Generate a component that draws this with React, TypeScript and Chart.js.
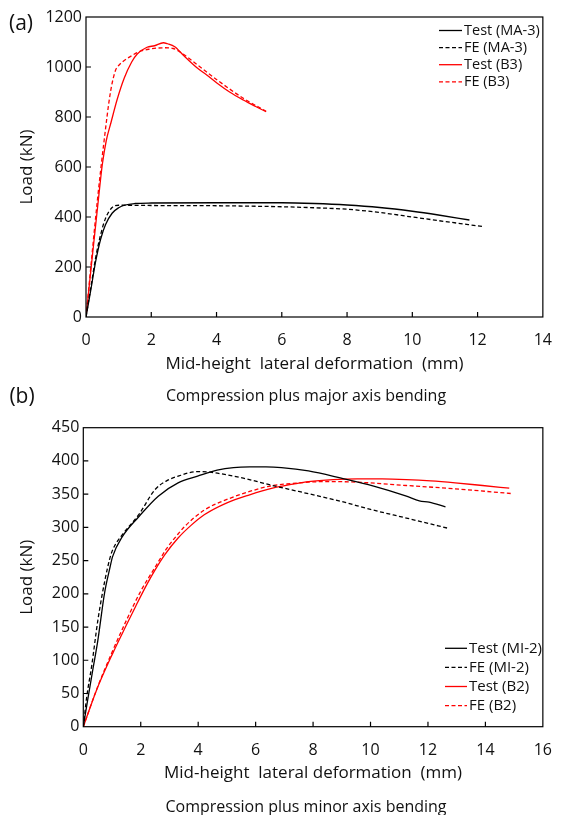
import React, { useEffect, useRef } from "react";
import { Chart, registerables } from "chart.js";

Chart.register(...registerables);

const FONT = "'Open Sans', sans-serif";

// ---------- (a) Compression plus major axis bending ----------
const aXTicksMax = 14;
const aYTicksMax = 1200;

const testMA3X = [0, 0.15, 0.3, 0.45, 0.6, 0.8, 1.0, 1.2, 1.5, 2, 4, 6, 7, 8, 9, 10, 10.8, 11.75];
const testMA3Y = [0, 110, 225, 312, 370, 415, 437, 448, 454, 456, 457, 457, 454, 448, 438, 423, 408, 388];

const feMA3X = [0, 0.15, 0.3, 0.45, 0.6, 0.8, 1.0, 1.3, 2, 4, 6, 7, 8, 9, 10, 11, 12.15];
const feMA3Y = [0, 120, 240, 330, 395, 438, 447, 447, 446, 445, 441, 437, 431, 418, 400, 382, 362];

const testB3X = [0, 0.2, 0.38, 0.5, 0.62, 0.77, 0.95, 1.17, 1.4, 1.57, 1.87, 2.1, 2.37, 2.5, 2.72, 3.0, 3.42, 3.7, 4.02, 4.4, 4.82, 5.2, 5.52];
const testB3Y = [0, 250, 470, 610, 705, 780, 868, 955, 1020, 1052, 1079, 1085, 1097, 1093, 1081, 1045, 995, 968, 935, 900, 868, 842, 821];

const feB3X = [0, 0.35, 0.55, 0.75, 0.9, 0.97, 1.12, 1.4, 1.62, 1.92, 2.42, 2.67, 2.87, 3.42, 4.02, 4.82, 5.52];
const feB3Y = [0, 468, 700, 900, 985, 1001, 1021, 1045, 1061, 1071, 1077, 1074, 1061, 1008, 948, 875, 823];

// ---------- (b) Compression plus minor axis bending ----------
const bXTicksMax = 16;
const bYTicksMax = 450;

const testMI2X = [0, 0.17, 0.34, 0.5, 0.74, 0.91, 1.02, 1.36, 1.93, 2.61, 3.3, 3.98, 4.66, 5.23, 5.8, 6.36, 6.9, 7.84, 8.98, 10.11, 11.25, 11.7, 12.04, 12.61];
const testMI2Y = [0, 45, 88, 128, 201, 236, 256, 286, 316, 347, 367, 377, 386, 390, 391, 391, 390, 385, 374, 362, 347, 340, 338, 331];

const feMI2X = [0, 0.12, 0.29, 0.51, 0.75, 0.91, 1.02, 1.36, 1.93, 2.5, 2.9, 3.3, 3.98, 4.43, 5.0, 5.57, 6.59, 7.5, 8.98, 10, 11.25, 12.67];
const feMI2Y = [0, 45, 91, 161, 220, 251, 266, 289, 319, 357, 370, 377, 384, 383, 379, 374, 363, 354, 339, 327, 314, 299];

const testB2X = [0, 0.46, 1.02, 1.5, 1.82, 2.2, 2.5, 2.84, 3.3, 3.75, 4.21, 5.0, 5.79, 6.59, 7.3, 7.84, 8.7, 9.54, 10.4, 11.25, 12.1, 12.95, 13.9, 14.83];
const testB2Y = [0, 55, 110, 153, 181, 213, 236, 259, 284, 303, 319, 337, 349, 359, 365, 369, 372, 373, 373, 372, 370, 367, 363, 359];

const feB2X = [0, 0.5, 1.0, 1.5, 2.0, 2.5, 2.9, 3.3, 3.52, 4.21, 5.0, 5.79, 6.59, 7.3, 7.84, 8.5, 9.54, 11.25, 12.95, 14.88];
const feB2Y = [0, 60, 112, 160, 204, 240, 268, 290, 301, 326, 342, 354, 363, 366, 368, 369, 368, 363, 358, 351];

const toPts = (xs: number[], ys: number[]) => xs.map((x, i) => ({ x, y: ys[i] }));

const framePlugin = {
  id: "frame",
  afterDraw(chart: any) {
    const { ctx, chartArea } = chart;
    const xs = chart.scales.x;
    const ys = chart.scales.y;
    ctx.save();
    ctx.strokeStyle = "#000";
    ctx.lineWidth = 1.2;
    ctx.setLineDash([]);
    ctx.strokeRect(chartArea.left, chartArea.top, chartArea.right - chartArea.left, chartArea.bottom - chartArea.top);
    ctx.beginPath();
    xs.ticks.forEach((t: any) => {
      const px = xs.getPixelForValue(t.value);
      if (px <= chartArea.left + 1 || px >= chartArea.right - 1) return;
      ctx.moveTo(px, chartArea.bottom);
      ctx.lineTo(px, chartArea.bottom - 5);
    });
    ys.ticks.forEach((t: any) => {
      const py = ys.getPixelForValue(t.value);
      if (py <= chartArea.top + 1 || py >= chartArea.bottom - 1) return;
      ctx.moveTo(chartArea.left, py);
      ctx.lineTo(chartArea.left + 5, py);
    });
    ctx.stroke();
    ctx.restore();
  },
};

const legendPlugin = {
  id: "insideLegend",
  afterDraw(chart: any, _args: any, opts: any) {
    const { ctx } = chart;
    ctx.save();
    ctx.font = `${opts.fontSize}px ${FONT}`;
    ctx.textBaseline = "middle";
    ctx.textAlign = "left";
    chart.data.datasets.forEach((ds: any, i: number) => {
      const cy = opts.y + i * opts.rowHeight;
      ctx.beginPath();
      ctx.setLineDash(ds.borderDash || []);
      ctx.strokeStyle = ds.borderColor;
      ctx.lineWidth = ds.borderWidth;
      ctx.moveTo(opts.x, cy);
      ctx.lineTo(opts.x + opts.lineLength, cy);
      ctx.stroke();
      ctx.setLineDash([]);
      ctx.fillStyle = "#111";
      ctx.fillText(ds.label, opts.x + opts.lineLength + opts.gap, cy);
    });
    ctx.restore();
  },
};

type Series = { label: string; xs: number[]; ys: number[]; color: string; dashed: boolean };

function buildConfig(
  series: Series[],
  xMax: number,
  yMax: number,
  yStep: number,
  layout: { top: number; right: number; yWidth: number; xHeight: number; titlePad: number; tickPad: number },
  legend: any
) {
  return {
    type: "line" as const,
    data: {
      datasets: series.map((s) => ({
        label: s.label,
        data: toPts(s.xs, s.ys),
        borderColor: s.color,
        backgroundColor: s.color,
        borderWidth: 1.3,
        borderDash: s.dashed ? [4, 2.5] : [],
        pointRadius: 0,
        fill: false,
        cubicInterpolationMode: "monotone" as const,
      })),
    },
    options: {
      animation: false as const,
      responsive: false,
      maintainAspectRatio: false,
      layout: { padding: { top: layout.top, right: layout.right, left: 0, bottom: 0 } },
      plugins: {
        legend: { display: false },
        tooltip: { enabled: false },
        insideLegend: legend,
      },
      scales: {
        x: {
          type: "linear" as const,
          min: 0,
          max: xMax,
          ticks: {
            stepSize: 2,
            color: "#111",
            font: { family: FONT, size: 16 },
            padding: layout.tickPad,
            maxRotation: 0,
            callback: (v: any) => String(v),
          },
          grid: { display: false, drawTicks: false },
          border: { display: false },
          title: {
            display: true,
            text: "Mid-height  lateral deformation  (mm)",
            color: "#111",
            font: { family: FONT, size: 17 },
            padding: { top: 0, bottom: layout.titlePad },
          },
          afterFit: (s: any) => {
            s.height = layout.xHeight;
          },
        },
        y: {
          type: "linear" as const,
          min: 0,
          max: yMax,
          ticks: {
            stepSize: yStep,
            color: "#111",
            font: { family: FONT, size: 16 },
            padding: 4,
            callback: (v: any) => String(v),
          },
          grid: { display: false, drawTicks: false },
          border: { display: false },
          title: {
            display: true,
            text: "Load (kN)",
            color: "#111",
            font: { family: FONT, size: 17 },
            padding: { top: 17, bottom: 0 },
          },
          afterFit: (s: any) => {
            s.width = layout.yWidth;
          },
        },
      },
    },
    plugins: [framePlugin, legendPlugin],
  };
}

function ChartCanvas({ config, width, height, top }: any) {
  const ref = useRef<HTMLCanvasElement | null>(null);
  useEffect(() => {
    if (!ref.current) return;
    const chart = new Chart(ref.current, config);
    return () => chart.destroy();
  }, []);
  return (
    <canvas
      ref={ref}
      width={width}
      height={height}
      style={{ position: "absolute", left: 0, top, width, height }}
    />
  );
}

const textStyle = (x: number, y: number, size: number): React.CSSProperties => ({
  position: "absolute",
  left: x,
  top: y,
  transform: "translate(-50%, -50%)",
  fontFamily: FONT,
  fontSize: size,
  color: "#111",
  whiteSpace: "pre",
  lineHeight: 1,
});

export default function App() {
  const cfgA = buildConfig(
    [
      { label: "Test (MA-3)", xs: testMA3X, ys: testMA3Y, color: "#000", dashed: false },
      { label: "FE (MA-3)", xs: feMA3X, ys: feMA3Y, color: "#000", dashed: true },
      { label: "Test (B3)", xs: testB3X, ys: testB3Y, color: "#ff0000", dashed: false },
      { label: "FE (B3)", xs: feB3X, ys: feB3Y, color: "#ff0000", dashed: true },
    ],
    aXTicksMax,
    aYTicksMax,
    200,
    { top: 17, right: 13, yWidth: 86, xHeight: 93, titlePad: 36, tickPad: 14 },
    { x: 439, y: 30.5, rowHeight: 17.1, lineLength: 23, gap: 2, fontSize: 14.5 }
  );
  const cfgB = buildConfig(
    [
      { label: "Test (MI-2)", xs: testMI2X, ys: testMI2Y, color: "#000", dashed: false },
      { label: "FE (MI-2)", xs: feMI2X, ys: feMI2Y, color: "#000", dashed: true },
      { label: "Test (B2)", xs: testB2X, ys: testB2Y, color: "#ff0000", dashed: false },
      { label: "FE (B2)", xs: feB2X, ys: feB2Y, color: "#ff0000", dashed: true },
    ],
    bXTicksMax,
    bYTicksMax,
    50,
    { top: 17.7, right: 13.3, yWidth: 83.3, xHeight: 88.3, titlePad: 32, tickPad: 14 },
    { x: 445, y: 238.3, rowHeight: 19.1, lineLength: 22, gap: 2, fontSize: 15 }
  );
  return (
    <div style={{ position: "absolute", left: 0, top: 0, width: 566, height: 815, background: "#fff", overflow: "hidden" }}>
      <ChartCanvas config={cfgA} width={566} height={410} top={0} />
      <ChartCanvas config={cfgB} width={566} height={405} top={410} />
      <div style={textStyle(21, 22, 21)}>(a)</div>
      <div style={textStyle(306, 395, 16)}>Compression plus major axis bending</div>
      <div style={textStyle(22, 395, 21)}>(b)</div>
      <div style={textStyle(306, 806, 16)}>Compression plus minor axis bending</div>
    </div>
  );
}
